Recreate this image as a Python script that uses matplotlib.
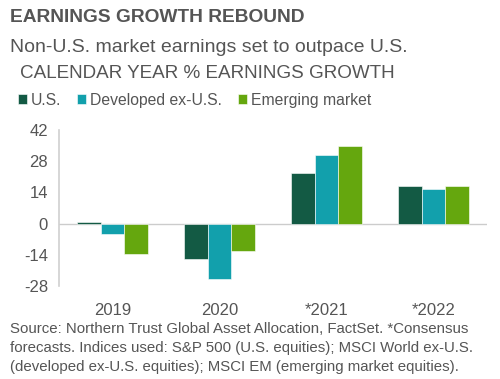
import numpy as np
import matplotlib.pyplot as plt

plt.rcParams["font.family"] = ["Liberation Sans", "DejaVu Sans"]

# =========================
# Data
# =========================
years = ["2019", "2020", "*2021", "*2022"]
us = [0.8, -15.7, 22.7, 16.7]
developed_ex_us = [-4.5, -25.0, 30.8, 15.5]
emerging = [-13.6, -12.4, 34.8, 16.7]

series_names = ["U.S.", "Developed ex-U.S.", "Emerging market"]
colors = ["#135a44", "#12a0ac", "#65a70e"]
yticks = [-28, -14, 0, 14, 28, 42]

TEXT = "#555555"

# =========================
# Figure
# =========================
fig = plt.figure(figsize=(5.0, 3.79), dpi=100)
ax = fig.add_axes([0.118, 0.2454, 0.856, 0.4116])

x = np.arange(len(years))
width = 0.22
handles = []
for i, (vals, name, col) in enumerate(zip([us, developed_ex_us, emerging], series_names, colors)):
    b = ax.bar(x + (i - 1) * width, vals, width, color=col, label=name,
               edgecolor="white", linewidth=0.4, zorder=2)
    handles.append(b)

ax.axhline(0, color="#cccccc", linewidth=1.0, zorder=1)
ax.set_xlim(-0.5, 3.5)
ax.set_ylim(-28, 42)
ax.set_yticks(yticks)
ax.set_yticklabels([str(t) for t in yticks], fontsize=12, color=TEXT)
ax.set_xticks(x)
ax.set_xticklabels(years, fontsize=12, color=TEXT)
ax.tick_params(axis="y", length=0, pad=8)
ax.tick_params(axis="x", length=0, pad=12)

for s in ["top", "right", "bottom"]:
    ax.spines[s].set_visible(False)
ax.spines["left"].set_color("#d0d0d0")
ax.spines["left"].set_linewidth(1.2)

# titles
fig.text(0.02, 0.955, "EARNINGS GROWTH REBOUND", fontsize=13.8, fontweight="bold",
         color=TEXT, va="center")
fig.text(0.02, 0.875, "Non-U.S. market earnings set to outpace U.S.", fontsize=14,
         color=TEXT, va="center")
fig.text(0.04, 0.805, "CALENDAR YEAR % EARNINGS GROWTH", fontsize=13.6,
         color=TEXT, va="center")

fig.legend(handles=handles, labels=series_names, loc="center left",
           bbox_to_anchor=(0.035, 0.735), ncol=3, frameon=False,
           fontsize=11.3, handlelength=0.6, handleheight=0.6, handletextpad=0.25,
           columnspacing=1.0, labelcolor=TEXT, borderaxespad=0, borderpad=0)

fig.text(0.02, 0.150,
         "Source: Northern Trust Global Asset Allocation, FactSet. *Consensus\n"
         "forecasts. Indices used: S&P 500 (U.S. equities); MSCI World ex-U.S.\n"
         "(developed ex-U.S. equities); MSCI EM (emerging market equities).",
         fontsize=10.8, color=TEXT, va="top", linespacing=1.45)

fig.savefig("out.png", dpi=100)
